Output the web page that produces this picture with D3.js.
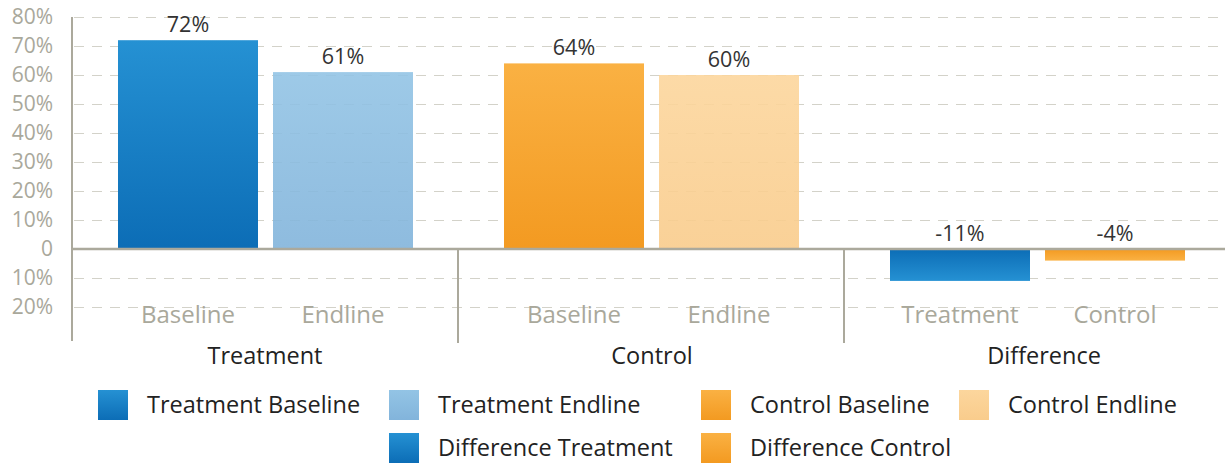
<!DOCTYPE html>
<html>
<head>
<meta charset="utf-8">
<script src="https://cdn.jsdelivr.net/npm/d3@7"></script>
<style>
  html, body { margin: 0; padding: 0; background: #fff; }
  svg { display: block; font-family: "Open Sans", sans-serif; }
</style>
</head>
<body>
<svg id="chart" width="1225" height="463"></svg>
<script>
// Groups along the x axis and the two bars inside each group
const groups = ["Treatment", "Control", "Difference"];
const subLabels = [["Baseline", "Endline"], ["Baseline", "Endline"], ["Treatment", "Control"]];
const seriesNames = [["Treatment Baseline", "Treatment Endline"], ["Control Baseline", "Control Endline"], ["Difference Treatment", "Difference Control"]];
const values = [[0.72, 0.61], [0.64, 0.60], [-0.11, -0.04]];
const valueLabels = [["72%", "61%"], ["64%", "60%"], ["-11%", "-4%"]];

const tickValues = [0.8, 0.7, 0.6, 0.5, 0.4, 0.3, 0.2, 0.1, 0, -0.1, -0.2];
const tickLabels = ["80%", "70%", "60%", "50%", "40%", "30%", "20%", "10%", "0", "10%", "20%"];

const legendOrder = ["Treatment Baseline", "Treatment Endline", "Control Baseline", "Control Endline", "Difference Treatment", "Difference Control"];

const svg = d3.select("#chart");

const x0 = d3.scaleBand().domain(groups).range([72, 1230]).paddingInner(0).paddingOuter(0);
const x1 = d3.scaleBand().domain([0, 1]).range([46, 341]).paddingInner(15 / 155).paddingOuter(0);
const y = d3.scaleLinear().domain([-0.2, 0.8]).range([307, 17]);

// Gradients for each series
const defs = svg.append("defs");
const gradStops = {
  "Treatment Baseline": ["#2591d3", "#0c6db6"],
  "Treatment Endline": ["#93c4e5", "#82b4db"],
  "Control Baseline": ["#fab143", "#f39a21"],
  "Control Endline": ["#fcd69d", "#f9cc8c"],
  "Difference Treatment": ["#0c6db6", "#2591d3"],
  "Difference Control": ["#f39a21", "#fab143"]
};
const legendStops = Object.assign({}, gradStops, {
  "Difference Treatment": ["#2591d3", "#0c6db6"],
  "Difference Control": ["#fab143", "#f39a21"]
});
const slug = s => s.replace(/\s+/g, "-").toLowerCase();
function addGrad(id, stops) {
  const g = defs.append("linearGradient").attr("id", id).attr("x1", 0).attr("y1", 0).attr("x2", 0).attr("y2", 1);
  g.append("stop").attr("offset", "0%").attr("stop-color", stops[0]);
  g.append("stop").attr("offset", "100%").attr("stop-color", stops[1]);
}
Object.entries(gradStops).forEach(([k, v]) => addGrad("g-" + slug(k), v));
Object.entries(legendStops).forEach(([k, v]) => addGrad("l-" + slug(k), v));

// Dashed horizontal gridlines
svg.append("g").selectAll("line")
  .data(tickValues.filter(v => v !== 0))
  .join("line")
  .attr("x1", 74).attr("x2", 1225)
  .attr("y1", d => Math.round(y(d)) + 0.5).attr("y2", d => Math.round(y(d)) + 0.5)
  .attr("stroke", "#d3d2c9").attr("stroke-width", 1)
  .attr("stroke-dasharray", "10,8");

// Y axis labels
const yAxis = d3.axisLeft(y).tickValues(tickValues).tickFormat((d, i) => tickLabels[i]).tickSize(0).tickPadding(19);
const yg = svg.append("g").attr("transform", "translate(72,0)").call(yAxis);
yg.select(".domain").remove();
yg.selectAll("text").attr("fill", "#a9a89b").attr("font-size", 21).attr("font-family", "'Open Sans', sans-serif");

// Bars
const bars = [];
groups.forEach((g, gi) => values[gi].forEach((v, bi) => bars.push({ g, gi, bi, v, name: seriesNames[gi][bi], label: valueLabels[gi][bi] })));

const barG = svg.append("g");
barG.selectAll("rect")
  .data(bars)
  .join("rect")
  .attr("x", d => x0(d.g) + x1(d.bi))
  .attr("width", x1.bandwidth())
  .attr("y", d => y(Math.max(0, d.v)))
  .attr("height", d => Math.abs(y(d.v) - y(0)))
  .attr("fill", d => `url(#g-${slug(d.name)})`)
  .attr("fill-opacity", d => (d.name.endsWith("Endline") ? 0.9 : 1));

// Value labels
svg.append("g").selectAll("text")
  .data(bars)
  .join("text")
  .attr("x", d => x0(d.g) + x1(d.bi) + x1.bandwidth() / 2)
  .attr("y", d => y(Math.max(0, d.v)) - 8)
  .attr("text-anchor", "middle")
  .attr("font-size", 21.5)
  .attr("fill", "#333333")
  .text(d => d.label);

// Axis lines: left axis, zero line, group dividers
const axisColor = "#aba99c";
svg.append("line").attr("x1", 72).attr("x2", 72).attr("y1", 17).attr("y2", 341)
  .attr("stroke", axisColor).attr("stroke-width", 2);
svg.append("line").attr("x1", 72).attr("x2", 1225).attr("y1", y(0)).attr("y2", y(0))
  .attr("stroke", axisColor).attr("stroke-width", 2.5);
svg.append("g").selectAll("line")
  .data(groups.slice(1))
  .join("line")
  .attr("x1", d => x0(d)).attr("x2", d => x0(d))
  .attr("y1", y(0)).attr("y2", 343)
  .attr("stroke", axisColor).attr("stroke-width", 2);

// Sub-category labels
svg.append("g").selectAll("text")
  .data(bars)
  .join("text")
  .attr("x", d => x0(d.g) + x1(d.bi) + x1.bandwidth() / 2)
  .attr("y", 323)
  .attr("text-anchor", "middle")
  .attr("font-size", 24)
  .attr("fill", "#a9a89b")
  .text(d => subLabels[d.gi][d.bi]);

// Group labels (the last group sits slightly right of its band centre)
const groupLabelShift = [0, 1, 7];
svg.append("g").selectAll("text")
  .data(groups)
  .join("text")
  .attr("x", (d, i) => x0(d) + x0.bandwidth() / 2 + groupLabelShift[i])
  .attr("y", 364)
  .attr("text-anchor", "middle")
  .attr("font-size", 23.5)
  .attr("fill", "#222222")
  .text(d => d);

// Legend
const legendPos = {
  "Treatment Baseline": [98, 390],
  "Treatment Endline": [389, 390],
  "Control Baseline": [701, 390],
  "Control Endline": [959, 390],
  "Difference Treatment": [389, 433],
  "Difference Control": [701, 433]
};
const leg = svg.append("g").selectAll("g")
  .data(legendOrder)
  .join("g")
  .attr("transform", d => `translate(${legendPos[d][0]},${legendPos[d][1]})`);
leg.append("rect").attr("width", 30).attr("height", 30)
  .attr("fill", d => `url(#l-${slug(d)})`);
leg.append("text").attr("x", 49).attr("y", 23)
  .attr("font-size", 23.5).attr("fill", "#222222")
  .text(d => d);
</script>
</body>
</html>
